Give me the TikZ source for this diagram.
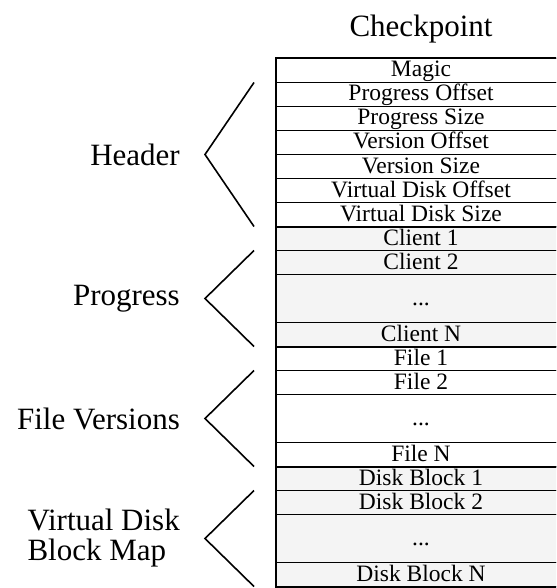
\documentclass[tikz,border=0pt]{standalone}
\usepackage{fontspec}
\setmainfont{Liberation Serif}
\usepackage{tikz}
\usetikzlibrary{positioning}
\definecolor{fieldgray}{RGB}{244,244,244}

\tikzset{
  cell/.style={draw, line width=1pt, minimum width=290pt, minimum height=24pt,
    inner sep=0pt, outer sep=0pt, text height=17.5pt, text depth=4.5pt,
    font=\fontsize{23.5}{24}\selectfont},
  gapcell/.style={cell, minimum height=48pt},
  section/.style={draw, line width=2pt},
  brace/.style={line width=1.6pt, line join=miter},
  partlabel/.style={anchor=east, align=left, inner sep=0pt,
    font=\fontsize{31}{30}\selectfont}
}

\begin{document}
\begin{tikzpicture}[x=1pt, y=-1pt]
    \useasboundingbox (0,0) rectangle (556,588);
    \clip (0,0) rectangle (556,588);

    % header fields
    \node[cell, anchor=north west] (magic) at (276,58.5) {Magic};
    \node[cell, below=0pt of magic] (progofs) {Progress Offset};
    \node[cell, below=0pt of progofs] (progsize) {Progress Size};
    \node[cell, below=0pt of progsize] (verofs) {Version Offset};
    \node[cell, below=0pt of verofs] (versize) {Version Size};
    \node[cell, below=0pt of versize] (vdofs) {Virtual Disk Offset};
    \node[cell, below=0pt of vdofs] (vdsize) {Virtual Disk Size};

    % progress
    \node[cell, fill=fieldgray, below=0pt of vdsize] (client1) {Client 1};
    \node[cell, fill=fieldgray, below=0pt of client1] (client2) {Client 2};
    \node[gapcell, fill=fieldgray, below=0pt of client2] (clientdots) {...};
    \node[cell, fill=fieldgray, below=0pt of clientdots] (clientn) {Client N};

    % file versions
    \node[cell, below=0pt of clientn] (file1) {File 1};
    \node[cell, below=0pt of file1] (file2) {File 2};
    \node[gapcell, below=0pt of file2] (filedots) {...};
    \node[cell, below=0pt of filedots] (filen) {File N};

    % virtual disk block map
    \node[cell, fill=fieldgray, below=0pt of filen] (block1) {Disk Block 1};
    \node[cell, fill=fieldgray, below=0pt of block1] (block2) {Disk Block 2};
    \node[gapcell, fill=fieldgray, below=0pt of block2] (blockdots) {...};
    \node[cell, fill=fieldgray, below=0pt of blockdots] (blockn) {Disk Block N};

    % thick outline of each part
    \draw[section] (magic.north west) rectangle (vdsize.south east);
    \draw[section] (client1.north west) rectangle (clientn.south east);
    \draw[section] (file1.north west) rectangle (filen.south east);
    \draw[section] (block1.north west) rectangle (blockn.south east);

    \node[font=\fontsize{31}{31}\selectfont, above=12pt of magic] (title) {Checkpoint};

    % braces
    \coordinate (hdtop) at ([xshift=-22pt]magic.south west);
    \coordinate (hdtip) at ([xshift=-71pt]verofs.south west);
    \coordinate (hdbot) at ([xshift=-22pt]vdsize.south west);
    \draw[brace] (hdtop) -- (hdtip) -- (hdbot);
    \node[partlabel] (hdlabel) at ([xshift=-25pt]hdtip) {Header};

    \coordinate (prtop) at ([xshift=-22pt]client1.south west);
    \coordinate (prtip) at ([xshift=-71pt]clientdots.west);
    \coordinate (prbot) at ([xshift=-22pt]clientn.south west);
    \draw[brace] (prtop) -- (prtip) -- (prbot);
    \node[partlabel] (prlabel) at ([xshift=-25pt]prtip) {Progress};

    \coordinate (fvtop) at ([xshift=-22pt]file1.south west);
    \coordinate (fvtip) at ([xshift=-71pt]filedots.west);
    \coordinate (fvbot) at ([xshift=-22pt]filen.south west);
    \draw[brace] (fvtop) -- (fvtip) -- (fvbot);
    \node[partlabel] (fvlabel) at ([xshift=-25pt]fvtip) {File Versions};

    \coordinate (bmtop) at ([xshift=-22pt]block1.south west);
    \coordinate (bmtip) at ([xshift=-71pt]blockdots.west);
    \coordinate (bmbot) at ([xshift=-22pt]blockn.south west);
    \draw[brace] (bmtop) -- (bmtip) -- (bmbot);
    \node[partlabel] (bmlabel) at ([xshift=-25pt]bmtip) {Virtual Disk\\Block Map};
\end{tikzpicture}
\end{document}
